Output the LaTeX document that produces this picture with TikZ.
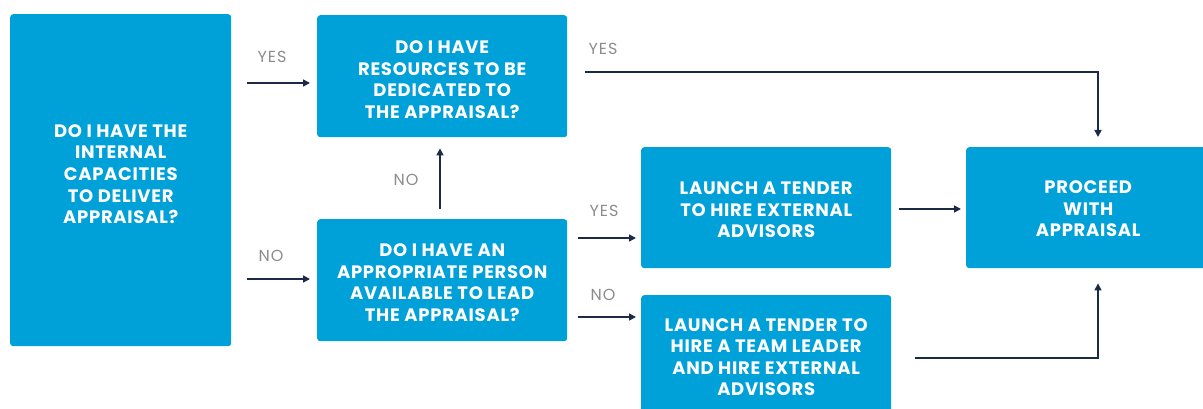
\documentclass[tikz,border=0pt]{standalone}
\usepackage{fontspec}
\setmainfont{Poppins}
\newfontfamily\boxfont[LetterSpace=4]{Poppins}
\newfontfamily\lblfont[LetterSpace=6]{Poppins}
\usetikzlibrary{arrows.meta}
\definecolor{boxblue}{RGB}{0,160,217}
\definecolor{navy}{RGB}{27,42,71}
\definecolor{lblgray}{RGB}{140,140,140}
\newcommand{\boxtext}[2]{\raisebox{#1}[\height][\depth]{\begin{tabular}{@{}c@{}}#2\end{tabular}}}
\tikzset{
  box/.style={fill=boxblue, rounded corners=3pt, anchor=north west, text=white,
    inner sep=0pt, font=\boxfont\fontsize{18}{21.6}\selectfont\bfseries},
  arr/.style={draw=navy, line width=1.5pt, -{Triangle[length=7pt,width=7pt]}},
  lbl/.style={text=lblgray, font=\lblfont\fontsize{16}{18}\selectfont}
}
\begin{document}
\begin{tikzpicture}[x=1pt,y=-1pt]
\useasboundingbox (0,0) rectangle (1203,409);
\clip (0,0) rectangle (1203,409);
\node[box, minimum width=221pt, minimum height=332pt] (L) at (10,14)
  {\boxtext{4pt}{DO I HAVE THE\\INTERNAL\\CAPACITIES\\TO DELIVER\\APPRAISAL?}};
\node[box, minimum width=250pt, minimum height=122pt] (B2) at (317,15)
  {\boxtext{-5.4pt}{DO I HAVE\\RESOURCES TO BE\\DEDICATED TO\\THE APPRAISAL?}};
\node[box, minimum width=250pt, minimum height=122pt] (B3) at (317,219)
  {\boxtext{-4.4pt}{DO I HAVE AN\\APPROPRIATE PERSON\\AVAILABLE TO LEAD\\THE APPRAISAL?}};
\node[box, minimum width=250pt, minimum height=121pt] (B4) at (641,147)
  {\boxtext{-4pt}{LAUNCH A TENDER\\TO HIRE EXTERNAL\\ADVISORS}};
\node[box, minimum width=250pt, minimum height=124pt] (B5) at (641,295)
  {\boxtext{-2pt}{LAUNCH A TENDER TO\\HIRE A TEAM LEADER\\AND HIRE EXTERNAL\\ADVISORS}};
\node[box, minimum width=244pt, minimum height=121pt] (B6) at (966,147)
  {\boxtext{-3pt}{PROCEED\\WITH\\APPRAISAL}};
% connectors
\draw[arr, shorten <=16pt, shorten >=7pt] (L.east |- 0,83) -- (B2.west |- 0,83);
\draw[arr, shorten <=16pt, shorten >=7pt] (L.east |- 0,279) -- (B3.west |- 0,279);
\draw[arr, shorten <=10pt, shorten >=11pt] (B3.north -| 440,0) -- (B2.south -| 440,0);
\draw[arr, shorten <=18pt, shorten >=10pt] (B2.east |- 0,72) -| (B6.north -| 1098,0);
\draw[arr, shorten <=11pt, shorten >=5pt] (B3.east |- 0,238) -- (B4.west |- 0,238);
\draw[arr, shorten <=11pt, shorten >=5pt] (B3.east |- 0,317) -- (B5.west |- 0,317);
\draw[arr, shorten <=8pt, shorten >=5pt] (B4.east |- 0,209) -- (B6.west |- 0,209);
\draw[arr, shorten <=24pt, shorten >=15pt] (B5.east |- 0,358) -| (B6.south -| 1098,0);
% labels
\node[lbl] (l1) at (272,57) {YES};
\node[lbl] (l2) at (271,256) {NO};
\node[lbl] (l3) at (406,180) {NO};
\node[lbl] (l4) at (603,49) {YES};
\node[lbl] (l5) at (604,211) {YES};
\node[lbl] (l6) at (603,295) {NO};
\end{tikzpicture}
\end{document}
